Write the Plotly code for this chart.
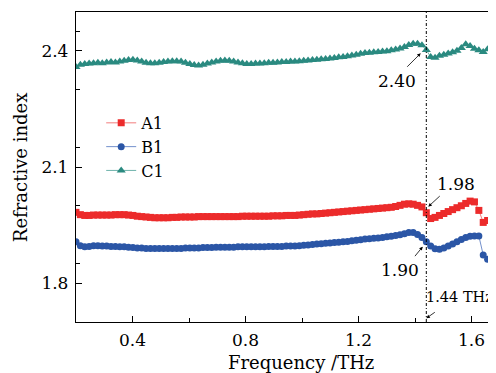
import plotly.graph_objects as go

freq = [0.2, 0.2155, 0.231, 0.2465, 0.262, 0.2775, 0.293, 0.3085, 0.324, 0.3395,
        0.355, 0.3705, 0.386, 0.4015, 0.417, 0.4325, 0.448, 0.4635, 0.479, 0.4945,
        0.51, 0.5255, 0.541, 0.5565, 0.572, 0.5875, 0.603, 0.6185, 0.634, 0.6495,
        0.665, 0.6805, 0.696, 0.7115, 0.727, 0.7425, 0.758, 0.7735, 0.789, 0.8045,
        0.82, 0.8355, 0.851, 0.8665, 0.882, 0.8975, 0.913, 0.9285, 0.944, 0.9595,
        0.975, 0.9905, 1.006, 1.0215, 1.037, 1.0525, 1.068, 1.0835, 1.099, 1.1145,
        1.13, 1.1455, 1.161, 1.1765, 1.192, 1.2075, 1.223, 1.2385, 1.254, 1.2695,
        1.285, 1.3005, 1.316, 1.3315, 1.347, 1.3625, 1.378, 1.3935, 1.409, 1.4245,
        1.44, 1.4555, 1.471, 1.4865, 1.502, 1.5175, 1.533, 1.5485, 1.564, 1.5795,
        1.595, 1.6105, 1.626, 1.6415, 1.657, 1.6725, 1.688]

a1 = [1.983, 1.977, 1.975, 1.975, 1.976, 1.976, 1.976, 1.976, 1.976, 1.977,
      1.977, 1.977, 1.976, 1.975, 1.973, 1.972, 1.971, 1.970, 1.969, 1.969,
      1.969, 1.969, 1.970, 1.970, 1.971, 1.971, 1.971, 1.971, 1.972, 1.972,
      1.972, 1.972, 1.972, 1.972, 1.972, 1.972, 1.972, 1.972, 1.973, 1.973,
      1.973, 1.973, 1.973, 1.973, 1.973, 1.974, 1.974, 1.974, 1.975, 1.975,
      1.975, 1.976, 1.977, 1.978, 1.979, 1.979, 1.980, 1.981, 1.982, 1.983,
      1.984, 1.985, 1.986, 1.987, 1.988, 1.989, 1.990, 1.991, 1.992, 1.993,
      1.994, 1.995, 1.996, 1.998, 2.001, 2.004, 2.005, 2.004, 2.001, 1.997,
      1.982, 1.967, 1.970, 1.975, 1.980, 1.985, 1.990, 1.995, 2.000, 2.006,
      2.012, 2.010, 1.988, 1.957, 1.962, 1.945, 1.930]

b1 = [1.907, 1.897, 1.894, 1.895, 1.897, 1.897, 1.896, 1.896, 1.895, 1.895,
      1.894, 1.894, 1.893, 1.892, 1.891, 1.891, 1.890, 1.890, 1.890, 1.890,
      1.890, 1.890, 1.890, 1.890, 1.890, 1.891, 1.891, 1.891, 1.891, 1.892,
      1.892, 1.892, 1.893, 1.893, 1.893, 1.893, 1.893, 1.894, 1.894, 1.894,
      1.894, 1.894, 1.894, 1.894, 1.895, 1.895, 1.895, 1.895, 1.896, 1.896,
      1.896, 1.897, 1.898, 1.899, 1.900, 1.901, 1.902, 1.903, 1.904, 1.905,
      1.906, 1.907, 1.908, 1.910, 1.911, 1.912, 1.914, 1.915, 1.916, 1.917,
      1.918, 1.920, 1.921, 1.923, 1.925, 1.928, 1.931, 1.931, 1.926, 1.918,
      1.907, 1.896, 1.889, 1.888, 1.891, 1.896, 1.901, 1.907, 1.913, 1.918,
      1.921, 1.922, 1.922, 1.873, 1.862, 1.863, 1.868]

c1 = [2.358, 2.364, 2.366, 2.367, 2.368, 2.369, 2.368, 2.370, 2.371, 2.370,
      2.372, 2.374, 2.376, 2.377, 2.375, 2.372, 2.369, 2.368, 2.368, 2.369,
      2.371, 2.372, 2.373, 2.373, 2.372, 2.369, 2.366, 2.363, 2.362, 2.364,
      2.367, 2.370, 2.372, 2.374, 2.375, 2.374, 2.372, 2.370, 2.368, 2.366,
      2.366, 2.367, 2.367, 2.368, 2.369, 2.369, 2.370, 2.371, 2.371, 2.372,
      2.372, 2.373, 2.374, 2.375, 2.376, 2.377, 2.378, 2.379, 2.380, 2.381,
      2.383, 2.384, 2.386, 2.388, 2.390, 2.392, 2.394, 2.395, 2.396, 2.397,
      2.398, 2.399, 2.401, 2.403, 2.406, 2.410, 2.415, 2.418, 2.418, 2.414,
      2.402, 2.384, 2.382, 2.387, 2.390, 2.393, 2.396, 2.400, 2.407, 2.417,
      2.412, 2.405, 2.401, 2.397, 2.404, 2.408, 2.414]

series_names = ["A1", "B1", "C1"]
marker_colors = ["#ec2b2b", "#2b56a6", "#2a8a80"]
line_colors = ["#f27c7c", "#7390cc", "#6fb3ab"]
symbols = ["square", "circle", "triangle-up"]
sizes = [7, 7, 8]

mark_freq = 1.44

FONT = "DejaVu Serif"

fig = go.Figure()
for name, ys, mc, lc, sym, sz in zip(series_names, [a1, b1, c1], marker_colors,
                                      line_colors, symbols, sizes):
    fig.add_trace(go.Scatter(
        x=freq, y=ys, name=name, mode="lines+markers",
        line=dict(color=lc, width=1),
        marker=dict(symbol=sym, size=sz, color=mc, line=dict(width=0)),
    ))

fig.add_shape(type="line", xref="x", yref="paper", x0=mark_freq, x1=mark_freq,
              y0=0, y1=1, line=dict(color="black", width=1, dash="3px,2px,1px,2px"))

# arrows (head x, head y, tail offset px)
arrow_specs = [
    (1.4202, 2.3935, -15, 15),
    (1.447, 1.9976, 13, -12),
    (1.4273, 1.8944, -9, 11),
    (1.44, 1.7097, 10, -7),
]
for hx, hy, ax, ay in arrow_specs:
    fig.add_annotation(x=hx, y=hy, xref="x", yref="y", text="", showarrow=True,
                       ax=ax, ay=ay, arrowhead=2, arrowsize=0.9, arrowwidth=0.8,
                       arrowcolor="black", standoff=0)

text_specs = [
    ("2.40", 1.338, 2.322, "center", 17),
    ("1.98", 1.5434, 2.0574, "center", 17),
    ("1.90", 1.3469, 1.833, "center", 17),
    ("1.44 THz", 1.436, 1.7639, "left", 14.5),
]
for t, tx, ty, anc, fs in text_specs:
    fig.add_annotation(x=tx, y=ty, xref="x", yref="y", text=t, showarrow=False,
                       xanchor=anc, yanchor="middle", borderpad=0,
                       font=dict(family=FONT, size=fs, color="black"))

# axis titles
fig.add_annotation(x=0.535, y=-0.13, xref="paper", yref="paper",
                   text="Frequency /THz", showarrow=False,
                   xanchor="center", yanchor="middle",
                   font=dict(family=FONT, size=18, color="black"))
fig.add_annotation(x=-0.133, y=0.5, xref="paper", yref="paper",
                   text="Refractive index", showarrow=False, textangle=-90,
                   xanchor="center", yanchor="middle",
                   font=dict(family=FONT, size=18, color="black"))

# page body adds an 8px offset, so the figure is sized to fill the rest of the window
fig.update_layout(
    width=488, height=365,
    margin=dict(l=68, r=0, t=4, b=51, autoexpand=False),
    paper_bgcolor="white", plot_bgcolor="white",
    font=dict(family=FONT, size=17, color="black"),
    showlegend=True,
    legend=dict(x=0.06, y=0.697, xanchor="left", yanchor="top",
                bgcolor="rgba(0,0,0,0)", font=dict(family=FONT, size=16),
                itemwidth=30, tracegroupgap=0),
)
fig.update_xaxes(
    range=[0.2, 1.6867], showgrid=False, zeroline=False, automargin=False,
    showline=True, linecolor="black", linewidth=1.3, mirror=True,
    ticks="inside", ticklen=6, tickwidth=1.2, tickcolor="black",
    tick0=0.4, dtick=0.4, tickformat=".1f",
    minor=dict(ticks="inside", ticklen=4, tickwidth=1.2, tickcolor="black", dtick=0.2, tick0=0.2),
    ticklabelstandoff=2,
)
fig.update_yaxes(
    range=[1.7, 2.5], showgrid=False, zeroline=False, automargin=False,
    showline=True, linecolor="black", linewidth=1.3, mirror=False,
    ticks="inside", ticklen=6, tickwidth=1.2, tickcolor="black",
    tick0=1.8, dtick=0.3, tickformat=".1f",
    minor=dict(ticks="inside", ticklen=4, tickwidth=1.2, tickcolor="black", dtick=0.15, tick0=1.7),
    ticklabelstandoff=3,
)

fig.write_html("out.html")
